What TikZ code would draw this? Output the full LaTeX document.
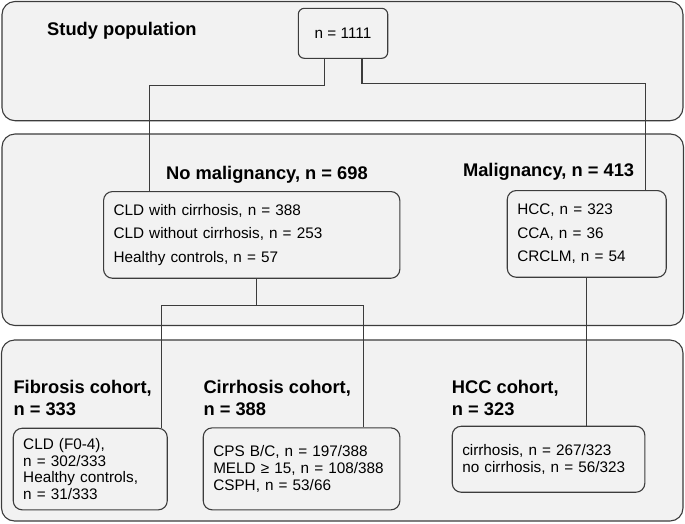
\documentclass[tikz,border=0pt]{standalone}
\usepackage{fontspec}
\setmainfont{Liberation Sans}

\definecolor{panelgray}{HTML}{F2F2F2}
\definecolor{linegray}{HTML}{3C3C3C}
\newcommand{\headsize}{\fontsize{18.3}{21.7}\selectfont\bfseries}
\newcommand{\boxsize}{\fontsize{15.3}{23.3}\selectfont}
\newcommand{\tightsize}{\fontsize{15.3}{16.6}\selectfont}

\begin{document}
\begin{tikzpicture}[x=1pt,y=-1pt,
    panel/.style={draw=linegray, fill=panelgray, line width=1.1pt, rounded corners=13pt},
    box/.style={draw=linegray, fill=panelgray, line width=1.1pt, rounded corners=9pt,
        anchor=north west, align=left, inner xsep=10pt, inner ysep=0pt, font=\boxsize},
    head/.style={inner sep=0pt, font=\headsize},
    link/.style={draw=linegray, line width=1.1pt}]
    \useasboundingbox (0,0) rectangle (685,523);

    % the three panels
    \draw[panel] (2,1.5) rectangle (683,120.7);
    \draw[panel] (2,134) rectangle (683.5,325.5);
    \draw[panel] (1.5,340) rectangle (683,521);

    % headings
    \node[head, anchor=base west] (studyhead) at (47,35) {Study population};
    \node[head, anchor=base west] (nomalhead) at (166,179.3) {No malignancy, n = 698};
    \node[head, anchor=base east] (malhead) at (634.3,176.7) {Malignancy, n = 413};
    \node[head, anchor=north west, align=left] (fibhead) at (13.3,380) {Fibrosis cohort,\\n = 333};
    \node[head, anchor=north west, align=left] (cirhead) at (203.3,380) {Cirrhosis cohort,\\n = 388};
    \node[head, anchor=north west, align=left] (hcchead) at (451.7,380) {HCC cohort,\\n = 323};

    % boxes
    \node[box, anchor=center, align=center, minimum width=89.4pt, minimum height=50pt,
        rounded corners=6pt] (total) at (343,33.3) {n = 1111};
    \node[box, text width=276.3pt, minimum height=86.7pt] (nomal) at (103,191)
        {CLD with cirrhosis, n = 388\\CLD without cirrhosis, n = 253\\Healthy controls, n = 57};
    \node[box, text width=139pt, minimum height=86.7pt] (mal) at (506.7,190)
        {HCC, n = 323\\CCA, n = 36\\CRCLM, n = 54};
    \node[box, text width=134pt, minimum height=81.6pt, font=\tightsize] (fib) at (12.7,427.7)
        {CLD (F0-4),\\n = 302/333\\Healthy controls,\\n = 31/333};
    \node[box, text width=176.6pt, minimum height=82pt, font=\tightsize] (cir) at (202.7,427.3)
        {CPS B/C, n = 197/388\\MELD ≥ 15, n = 108/388\\CSPH, n = 53/66};
    \node[box, text width=172.6pt, minimum height=66pt, font=\tightsize] (hcc) at (451.7,425.7)
        {cirrhosis, n = 267/323\\no cirrhosis, n = 56/323};

    % connectors
    \draw[link] ([xshift=-18.7pt]total.south) -- ++(0,26.7) -| ([xshift=46.3pt]nomal.north west);
    \draw[link] ([xshift=19pt]total.south) -- ++(0,25) -| ([xshift=-21.4pt]mal.north east);
    \draw[link] ([xshift=5pt]nomal.south) -- ++(0,26.3) coordinate (split);
    \draw[link] ([xshift=-6.7pt]fib.north east) |- (split) -| ([xshift=-37pt]cir.north east);
    \draw[link] (mal.south) -- (mal.south |- hcc.north);
\end{tikzpicture}
\end{document}
